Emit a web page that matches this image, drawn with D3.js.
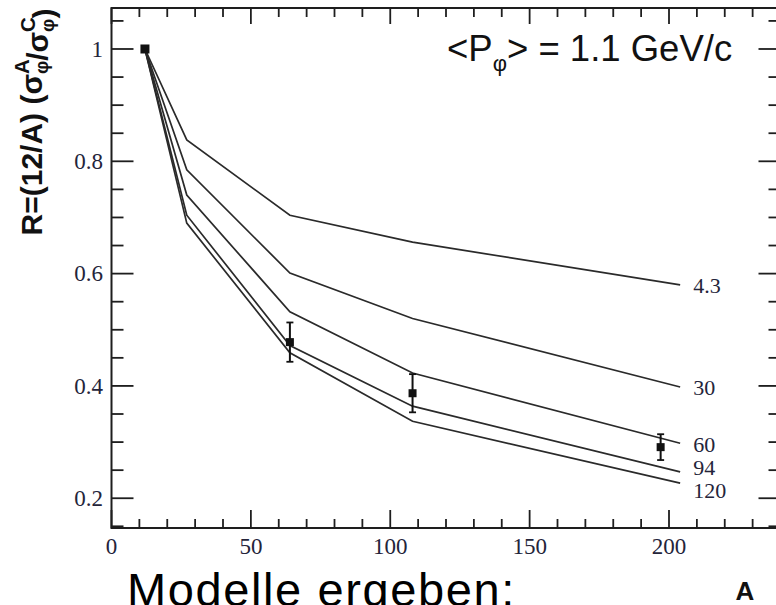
<!DOCTYPE html>
<html>
<head>
<meta charset="utf-8">
<script src="https://cdn.jsdelivr.net/npm/d3@7"></script>
<style>
  html, body { margin: 0; padding: 0; background: #fff; }
  svg { display: block; }
</style>
</head>
<body>
<svg id="chart" width="776" height="605"></svg>
<script>
// Mass numbers at which the model curves are evaluated
const massNumbers = [12, 27, 64, 108, 204];

// Model curves, labelled by the absorption cross-section (mb)
const curveLabels = ["4.3", "30", "60", "94", "120"];
const curveValues = [
  [1.0, 0.838, 0.704, 0.656, 0.580],
  [1.0, 0.785, 0.601, 0.520, 0.398],
  [1.0, 0.740, 0.532, 0.423, 0.298],
  [1.0, 0.704, 0.472, 0.364, 0.247],
  [1.0, 0.690, 0.459, 0.337, 0.227]
];

// Measured ratios with their uncertainties
const dataA = [12, 64, 108, 197];
const dataR = [1.0, 0.478, 0.387, 0.291];
const dataErr = [0, 0.035, 0.034, 0.023];

// Axis ticks
const xTickLabels = [0, 50, 100, 150, 200];
const yTickLabels = [0.2, 0.4, 0.6, 0.8, 1];

const svg = d3.select("#chart");

const plotL = 111.5, plotR = 780.5, plotT = 8, plotB = 528;
const x = d3.scaleLinear().domain([0, 240]).range([plotL, plotR]);
const y = d3.scaleLinear().domain([0.147, 1.073]).range([plotB, plotT]);

const axisColor = "#1e1e1e";
const labelColor = "#24243a";

// Frame with inward ticks on all four sides
const frame = svg.append("g");
frame.append("rect")
  .attr("x", plotL).attr("y", plotT)
  .attr("width", plotR - plotL).attr("height", plotB - plotT)
  .attr("fill", "none").attr("stroke", axisColor).attr("stroke-width", 2);

const xMinor = d3.range(0, 241, 10);
const yMinor = d3.range(0.15, 1.051, 0.05);

xMinor.forEach(v => {
  const major = Math.abs(v % 50) < 1e-6;
  frame.append("line").attr("x1", x(v)).attr("x2", x(v))
    .attr("y1", plotB).attr("y2", plotB - (major ? 18 : 9))
    .attr("stroke", axisColor).attr("stroke-width", 1.8);
  frame.append("line").attr("x1", x(v)).attr("x2", x(v))
    .attr("y1", plotT).attr("y2", plotT + (major ? 16 : 9))
    .attr("stroke", axisColor).attr("stroke-width", 1.8);
});

yMinor.forEach(v => {
  const major = Math.abs(Math.round(v * 100) % 20) < 1e-6;
  const len = major ? 22 : 12;
  frame.append("line").attr("x1", plotL).attr("x2", plotL + len)
    .attr("y1", y(v)).attr("y2", y(v))
    .attr("stroke", axisColor).attr("stroke-width", 1.8);
  frame.append("line").attr("x1", plotR).attr("x2", plotR - len)
    .attr("y1", y(v)).attr("y2", y(v))
    .attr("stroke", axisColor).attr("stroke-width", 1.8);
});

// Tick labels
const tickFont = "'Liberation Serif', 'DejaVu Serif', serif";
svg.append("g").selectAll("text").data(xTickLabels).join("text")
  .attr("x", d => x(d)).attr("y", 554)
  .attr("text-anchor", "middle")
  .attr("font-family", tickFont).attr("font-size", 23)
  .attr("fill", labelColor)
  .text(d => d);

svg.append("g").selectAll("text").data(yTickLabels).join("text")
  .attr("x", 103).attr("y", d => y(d))
  .attr("dy", "0.34em")
  .attr("text-anchor", "end")
  .attr("font-family", tickFont).attr("font-size", 23)
  .attr("fill", labelColor)
  .text(d => d === 1 ? "1" : d.toFixed(1));

// Model curves
const line = d3.line()
  .x((d, i) => x(massNumbers[i]))
  .y(d => y(d));

const labelShift = [0.38, 0.38, 0.38, 0.14, 0.66];
const curves = svg.append("g");
curveValues.forEach((vals, k) => {
  curves.append("path")
    .attr("d", line(vals))
    .attr("fill", "none")
    .attr("stroke", "#2a2a2a")
    .attr("stroke-width", 1.7)
    .attr("stroke-linejoin", "miter");
  curves.append("text")
    .attr("x", x(massNumbers[massNumbers.length - 1]) + 13)
    .attr("y", y(vals[vals.length - 1]))
    .attr("dy", labelShift[k] + "em")
    .attr("font-family", tickFont).attr("font-size", 22)
    .attr("fill", labelColor)
    .text(curveLabels[k]);
});

// Measured points with error bars
const pts = svg.append("g");
dataA.forEach((a, i) => {
  const cx = x(a), cy = y(dataR[i]);
  if (dataErr[i] > 0) {
    const y1 = y(dataR[i] + dataErr[i]), y2 = y(dataR[i] - dataErr[i]);
    pts.append("line").attr("x1", cx).attr("x2", cx).attr("y1", y1).attr("y2", y2)
      .attr("stroke", "#111").attr("stroke-width", 2);
    [y1, y2].forEach(yy => pts.append("line")
      .attr("x1", cx - 3.5).attr("x2", cx + 3.5).attr("y1", yy).attr("y2", yy)
      .attr("stroke", "#111").attr("stroke-width", 1.8));
  }
  const s = i === 0 ? 9 : 8;
  pts.append("rect")
    .attr("x", cx - s / 2).attr("y", cy - s / 2)
    .attr("width", s).attr("height", s)
    .attr("fill", "#111");
});

// Y axis title: R=(12/A) (σ^A_φ / σ^C_φ)
const sans = "'Liberation Sans', Arial, sans-serif";
const titleSize = 30;
const yTitle = svg.append("text")
  .attr("transform", "translate(42,122) rotate(-90)")
  .attr("text-anchor", "middle")
  .attr("font-family", sans).attr("font-weight", "bold")
  .attr("font-size", titleSize).attr("fill", "#111");

function stacked(parent, base, sup, sub, fs) {
  parent.append("tspan").text(base);
  const supSpan = parent.append("tspan")
    .attr("font-size", fs * 0.68).attr("dy", -fs * 0.42).text(sup);
  const w = supSpan.node().getComputedTextLength();
  const subSpan = parent.append("tspan")
    .attr("font-size", fs * 0.62).attr("dx", -w).attr("dy", fs * 0.62).text(sub);
  const ws = subSpan.node().getComputedTextLength();
  parent.append("tspan").attr("dx", Math.max(0, w - ws)).attr("dy", -fs * 0.2).text("");
}
yTitle.append("tspan").text("R=(12/A) (");
stacked(yTitle, "σ", "A", "φ", titleSize);
yTitle.append("tspan").text("/");
stacked(yTitle, "σ", "C", "φ", titleSize);
yTitle.append("tspan").text(")");

// Momentum annotation
const note = svg.append("text")
  .attr("x", 447).attr("y", 61)
  .attr("font-family", sans).attr("font-size", 36.5).attr("fill", "#111");
note.append("tspan").text("<P");
note.append("tspan").attr("font-size", 22).attr("dy", 10).text("φ");
note.append("tspan").attr("dy", -10).text("> = 1.1 GeV/c");

// X axis title
svg.append("text")
  .attr("x", 745).attr("y", 600)
  .attr("text-anchor", "middle")
  .attr("font-family", sans).attr("font-weight", "bold")
  .attr("font-size", 26).attr("fill", "#111")
  .text("A");

// Caption below the chart
svg.append("text")
  .attr("x", 127).attr("y", 606)
  .attr("font-family", sans).attr("font-size", 47)
  .attr("letter-spacing", 1.6).attr("fill", "#000")
  .text("Modelle ergeben:");
</script>
</body>
</html>
